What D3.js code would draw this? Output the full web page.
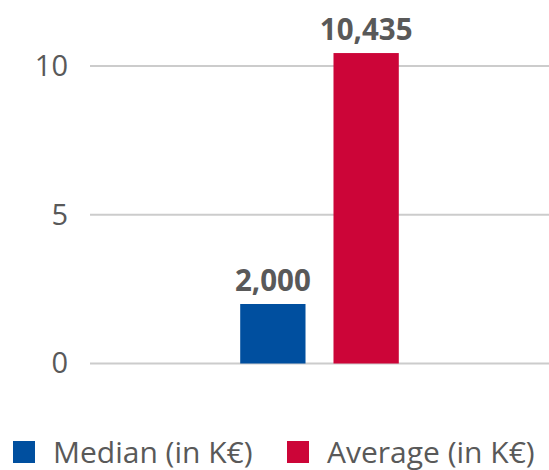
<!DOCTYPE html>
<html>
<head>
<meta charset="utf-8">
<script src="https://cdn.jsdelivr.net/npm/d3@7"></script>
<style>
  body { margin: 0; background: #fff; }
  svg { font-family: "Open Sans", sans-serif; }
</style>
</head>
<body>
<svg id="chart"></svg>
<script>
var categories = ["Median (in K€)", "Average (in K€)"];
var values = [2.000, 10.435];
var valueLabels = ["2,000", "10,435"];
var colors = ["#004f9f", "#cc0538"];
var yTicks = [0, 5, 10];

var svg_width = 549, svg_height = 470;

var svg = d3.select("#chart")
	.attr("width", svg_width)
	.attr("height", svg_height);

var x = d3.scaleBand()
	.domain(categories)
	.range([90, 549])
	.paddingInner(0.3)
	.paddingOuter(1.61);

var y = d3.scaleLinear()
	.domain([0, 10])
	.range([363.5, 66]);

// gridlines
svg.append("g")
	.selectAll("line")
	.data(yTicks)
	.enter().append("line")
	.attr("x1", 90)
	.attr("x2", 549)
	.attr("y1", function (d) { return y(d); })
	.attr("y2", function (d) { return y(d); })
	.attr("stroke", "#cccccc")
	.attr("stroke-width", 2);

// y axis labels
var yAxis = svg.append("g")
	.attr("transform", "translate(78,0)")
	.call(d3.axisLeft(y).tickValues(yTicks).tickSize(0).tickPadding(10));
yAxis.select(".domain").remove();
yAxis.selectAll("text")
	.attr("font-family", "Open Sans")
	.attr("font-size", 29)
	.attr("fill", "#595959");

// bars
svg.append("g")
	.selectAll("rect")
	.data(values)
	.enter().append("rect")
	.attr("x", function (d, i) { return x(categories[i]); })
	.attr("width", x.bandwidth())
	.attr("y", function (d) { return y(d); })
	.attr("height", function (d) { return y(0) - y(d); })
	.attr("fill", function (d, i) { return colors[i]; });

// value labels
svg.append("g")
	.selectAll("text")
	.data(values)
	.enter().append("text")
	.attr("x", function (d, i) { return x(categories[i]) + x.bandwidth() / 2; })
	.attr("y", function (d) { return y(d) - 13; })
	.attr("text-anchor", "middle")
	.attr("font-size", 29.5)
	.attr("font-weight", "bold")
	.attr("fill", "#595959")
	.text(function (d, i) { return valueLabels[i]; });

// legend
var legendX = [13, 287];
var legend = svg.append("g")
	.selectAll("g")
	.data(categories)
	.enter().append("g")
	.attr("transform", function (d, i) { return "translate(" + legendX[i] + ",441)"; });

legend.append("rect")
	.attr("width", 22)
	.attr("height", 22)
	.attr("fill", function (d, i) { return colors[i]; });

legend.append("text")
	.attr("x", 40)
	.attr("y", 22)
	.attr("font-size", 30)
	.attr("fill", "#595959")
	.text(function (d) { return d; });
</script>
</body>
</html>
